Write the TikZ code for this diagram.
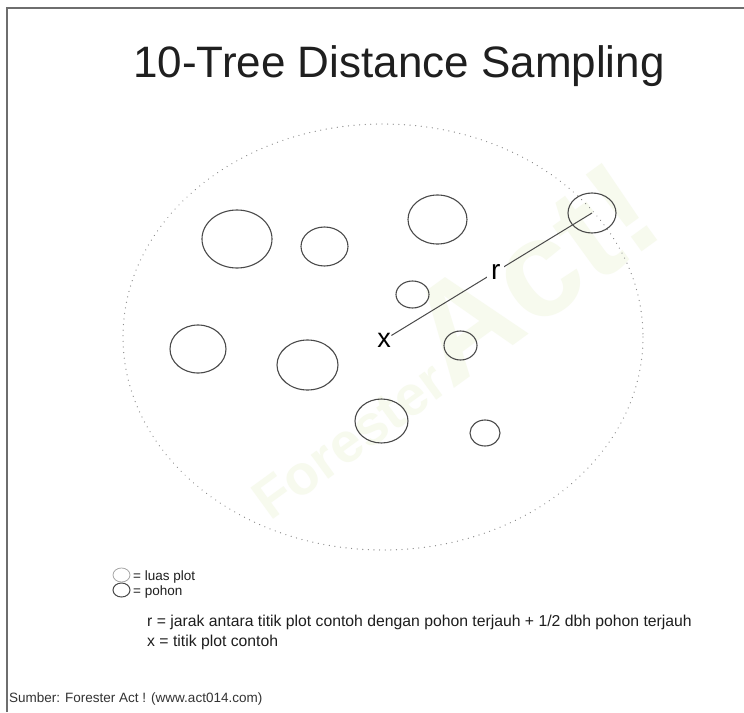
\documentclass[tikz,border=0pt]{standalone}
\usepackage{fontspec}
\setmainfont{Liberation Sans}
\usetikzlibrary{shapes.geometric}
\definecolor{inkline}{HTML}{4A4A4A}
\definecolor{framegray}{HTML}{6E6E6E}
\definecolor{dotgray}{HTML}{8C8C8C}
\definecolor{wmark}{HTML}{F7FAEE}
\definecolor{textdark}{HTML}{1E1E1E}
\tikzset{
  tree/.style={ellipse, draw=inkline, line width=1.1pt, inner sep=0pt, outer sep=0pt},
  plotarea/.style={draw=dotgray, line width=1.3pt, line cap=round, dash pattern=on 0.01pt off 5.6pt},
  note/.style={anchor=base west, inner sep=0pt, text=textdark},
}
\newcommand{\fsz}[1]{\fontsize{#1}{#1}\selectfont}
\begin{document}
\begin{tikzpicture}[x=1pt,y=-1pt]
\useasboundingbox (0,0) rectangle (744,712);
\fill[white] (0,0) rectangle (744,712);

% faint watermark behind everything
\node[rotate=36, anchor=base west, inner sep=0pt, text=wmark, font=\bfseries] (wm)
  at (270,522) {\fsz{56}Forester\fsz{138}Act!};

% page frame (top and left edges)
\draw[framegray, line width=1.2pt] (7,712) -- (7,8) -- (744,8);

% title
\node[note, text=black!88, font=\fsz{44}] (title) at (133,77) {10-Tree Distance Sampling};

% plot area boundary
\draw[plotarea] (383,337) ellipse [x radius=260, y radius=213];

% trees
\node[tree, minimum width=70, minimum height=58] (t1) at (237,239) {};
\node[tree, minimum width=47, minimum height=39] (t2) at (324.5,246.5) {};
\node[tree, minimum width=59, minimum height=49] (t3) at (437.5,219.5) {};
\node[tree, minimum width=48, minimum height=40] (t4) at (592,213) {};
\node[tree, minimum width=33, minimum height=27] (t5) at (412.5,294.5) {};
\node[tree, minimum width=56, minimum height=48] (t6) at (198,349) {};
\node[tree, minimum width=61, minimum height=50] (t7) at (307.5,365) {};
\node[tree, minimum width=33, minimum height=29] (t8) at (460.5,345.5) {};
\node[tree, minimum width=53, minimum height=44] (t9) at (381.5,421) {};
\node[tree, minimum width=30, minimum height=26] (t10) at (485,433) {};

% sample point and radius
\node[inner sep=0.5pt, font=\fsz{27}] (xpt) at (384,340) {x};
\draw[inkline, line width=1pt] (xpt) -- node[pos=0.52, fill=white, inner sep=4pt, text=black, font=\fsz{28}] (rlab) {r} (t4.center);

% legend
\node[ellipse, draw=black!35, line width=0.8pt, inner sep=0pt, minimum width=17, minimum height=14] (lgplot) at (121.5,575) {};
\node[note, font=\fsz{13.5}] (lgplottxt) at (133,580) {= luas plot};
\node[ellipse, draw=inkline, line width=1pt, inner sep=0pt, minimum width=17, minimum height=14] (lgtree) at (121.5,590) {};
\node[note, font=\fsz{13.5}] (lgtreetxt) at (133,595) {= pohon};

\node[note, font=\fsz{15.75}] (defr) at (147,626) {r = jarak antara titik plot contoh dengan pohon terjauh + 1/2 dbh pohon terjauh};
\node[note, font=\fsz{15.75}] (defx) at (147,646) {x = titik plot contoh};

% source
\node[note, text=black!80, font=\fsz{13.5}] (src) at (9,702) {Sumber: Forester Act ! (www.act014.com)};
\end{tikzpicture}
\end{document}
